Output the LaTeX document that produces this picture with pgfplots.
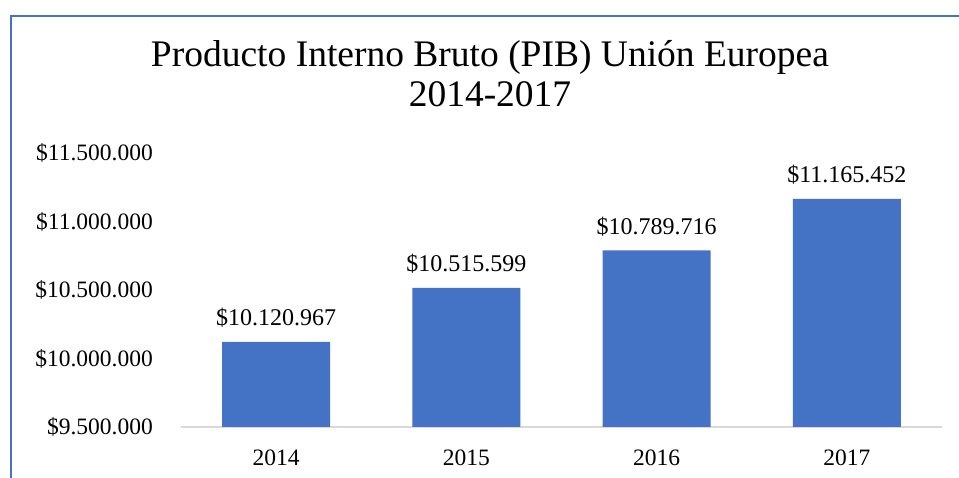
\documentclass[border=0pt]{standalone}
\usepackage{pgfplots}
\pgfplotsset{compat=1.18}
\usepackage{fontspec}
\setmainfont{Liberation Serif}
\definecolor{barblue}{HTML}{4472C4}
\definecolor{axgray}{HTML}{D9D9D9}
\begin{document}
\begin{tikzpicture}[x=1pt,y=1pt]
\useasboundingbox[fill=white] (0,0) rectangle (959,478);
\draw[barblue, line width=2pt] (11,0) -- (11,462) -- (959,462);
\node[anchor=base, inner sep=0pt, font=\fontsize{37.5}{40}\selectfont] at (490,411) {Producto Interno Bruto (PIB) Unión Europea};
\node[anchor=base, inner sep=0pt, font=\fontsize{37.5}{40}\selectfont] at (490,371) {2014-2017};
\begin{axis}[
  at={(181pt,51pt)}, anchor=south west,
  scale only axis, width=761pt, height=274pt,
  xmin=-0.5, xmax=3.5, ymin=9500000, ymax=11500000,
  axis x line=bottom, axis y line=left,
  x axis line style={draw=axgray, line width=1.5pt, -},
  y axis line style={draw=none},
  major tick length=0pt,
  xtick={0,1,2,3}, xticklabels={2014,2015,2016,2017},
  ytick={9500000,10000000,10500000,11000000,11500000},
  yticklabels={\$9.500.000,\$10.000.000,\$10.500.000,\$11.000.000,\$11.500.000},
  ticklabel style={font=\fontsize{23.5}{27}\selectfont, inner sep=0pt},
  yticklabel style={anchor=east, xshift=-28pt},
  xticklabel style={anchor=north, yshift=-22.5pt},
  scaled y ticks=false,
  clip=false,
]
\addplot[ybar, bar width=108pt, fill=barblue, draw=none,
  point meta=explicit symbolic,
  nodes near coords,
  nodes near coords style={anchor=south, inner sep=0pt, yshift=14pt, font=\fontsize{24}{28}\selectfont, text=black}]
  table[meta=label] {
x y label
0 10120967 \$10.120.967
1 10515599 \$10.515.599
2 10789716 \$10.789.716
3 11165452 \$11.165.452
};
\end{axis}
\end{tikzpicture}
\end{document}
